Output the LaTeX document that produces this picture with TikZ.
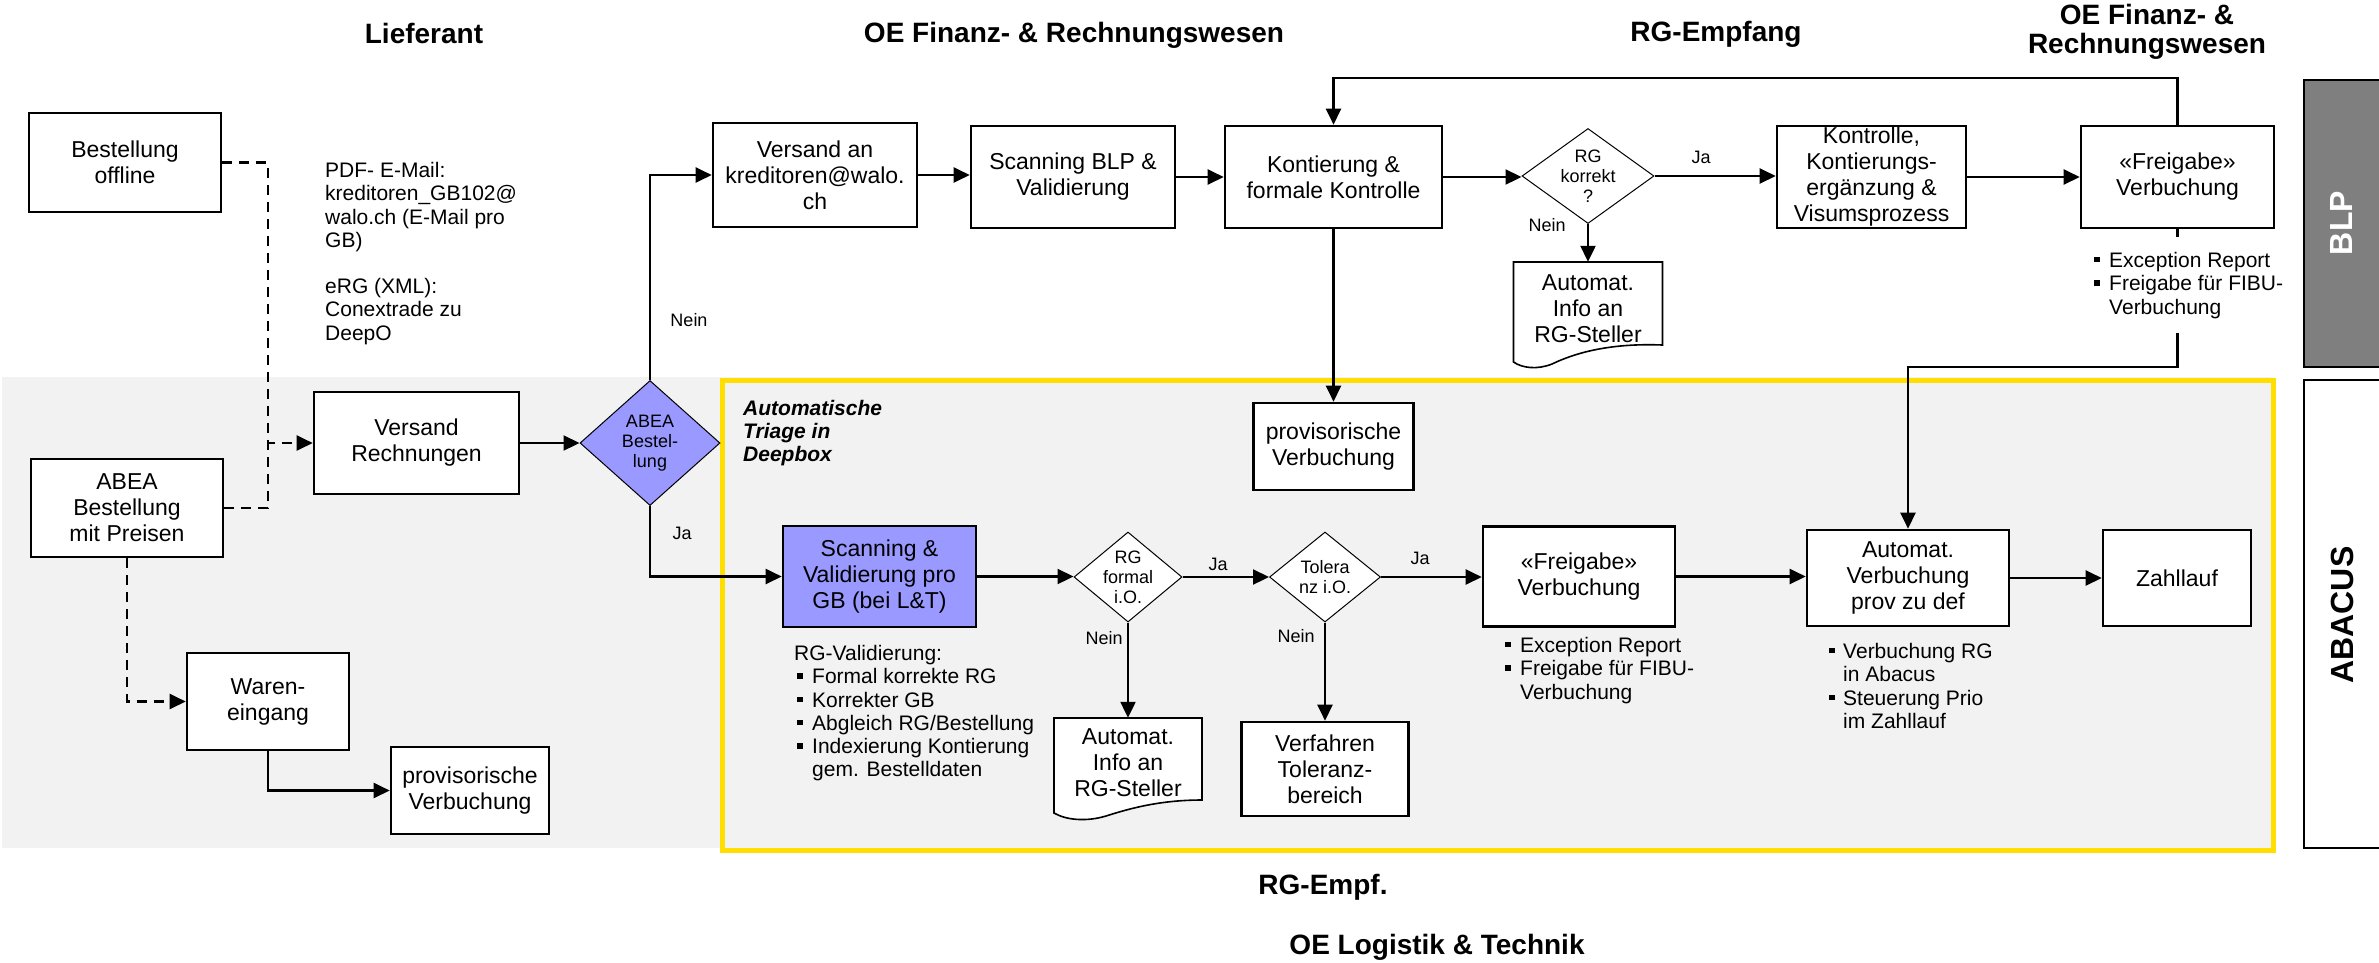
\documentclass[tikz,border=0pt]{standalone}
\usepackage{fontspec}
\setmainfont{Liberation Sans}
\usetikzlibrary{arrows.meta,shapes.geometric,calc}
\definecolor{bandgray}{HTML}{F2F2F2}
\definecolor{peri}{HTML}{9999FF}
\definecolor{ylw}{RGB}{255,222,0}
\definecolor{blpgray}{HTML}{7F7F7F}
\newcommand\sqb{\makebox[15pt][l]{\rule[5pt]{5.5pt}{5.5pt}}}
\newcommand\sqi{\hspace*{15pt}}
\begin{document}
\begin{tikzpicture}[x=1pt,y=-1pt,
  box/.style={draw, line width=2.6pt, fill=white, inner sep=0pt, align=center, font=\fontsize{23}{26}\selectfont},
  dia/.style={diamond, draw, line width=1pt, inner sep=0pt},
  dtext/.style={align=center, font=\fontsize{18}{20}\selectfont, inner sep=0pt},
  conn/.style={line width=2.2pt, -{Triangle[length=16pt,width=15pt]}},
  lnk/.style={line width=2.2pt},
  dashconn/.style={line width=2.2pt, dash pattern=on 10pt off 7pt, -{Triangle[length=16pt,width=15pt]}},
  dashlnk/.style={line width=2.2pt, dash pattern=on 10pt off 7pt},
  lbl/.style={font=\fontsize{18}{20}\selectfont, inner sep=0pt},
  hdr/.style={font=\bfseries\fontsize{28}{29}\selectfont, align=center, inner sep=0pt},
  note/.style={font=\fontsize{21}{23.3}\selectfont, align=left, inner sep=0pt, anchor=north west},
  docline/.style={line width=1.6pt, fill=white},
  bar/.style={line width=2.5pt}
]
\useasboundingbox (0,0) rectangle (2379,962);
% background band and triage frame
\fill[bandgray] (2,377) rectangle (2273,848);
\draw[ylw, line width=5pt] (722.5,380.5) rectangle (2273,850.5);
% lane bars
\draw[bar, fill=blpgray] (2304,80) rectangle (2390,367);
\draw[bar, fill=white] (2304,380) rectangle (2390,848);
\node[rotate=90, text=white, font=\bfseries\fontsize{32}{34}\selectfont, inner sep=0pt] (blpT) at (2341,223) {BLP};
\node[rotate=90, font=\bfseries\fontsize{32}{34}\selectfont, inner sep=0pt] (abaT) at (2342,615) {ABACUS};
% headers
\node[hdr] (hLief) at (424,33) {Lieferant};
\node[hdr] (hOE1) at (1074,35) {OE Finanz- \& Rechnungswesen};
\node[hdr] (hRG) at (1716,34) {RG-Empfang};
\node[hdr] (hOE2) at (2147,32) {OE Finanz- \&\\Rechnungswesen};
\node[hdr] (hRGE) at (1323,887) {RG-Empf.};
\node[hdr] (hOEL) at (1437,947) {OE Logistik \& Technik};
% boxes
\node[box, minimum width=192pt, minimum height=99pt] (boff) at (125,162.5) {Bestellung\\offline};
\node[box, minimum width=192pt, minimum height=98pt] (abea) at (127,508) {ABEA\\Bestellung\\mit Preisen};
\node[box, minimum width=205pt, minimum height=102pt] (vr) at (416.5,443) {Versand\\Rechnungen};
\node[box, minimum width=162pt, minimum height=97pt] (wein) at (268,701.5) {Waren-\\eingang};
\node[box, minimum width=158pt, minimum height=87pt] (provL) at (470,790.5) {provisorische\\Verbuchung};
\node[dia, fill=peri, minimum width=140pt, minimum height=125pt, label={[dtext]center:ABEA\\Bestel-\\lung}] (abeaD) at (650,443) {};
\node[box, minimum width=204pt, minimum height=104pt] (van) at (815,175) {Versand an\\kreditoren@walo.\\ch};
\node[box, minimum width=204pt, minimum height=102pt] (sblp) at (1073,177) {Scanning BLP \&\\Validierung};
\node[box, minimum width=217pt, minimum height=102pt] (kont) at (1333.5,177) {Kontierung \&\\formale Kontrolle};
\node[dia, fill=white, minimum width=132pt, minimum height=95pt, label={[dtext]center:RG\\korrekt\\?}] (rgk) at (1588,176) {};
\node[box, minimum width=189pt, minimum height=102pt] (kontr) at (1871.5,177) {Kontrolle,\\Kontierungs-\\ergänzung \&\\Visumsprozess};
\node[box, minimum width=193pt, minimum height=102pt] (frei1) at (2177.5,177) {«Freigabe»\\Verbuchung};
\node[box, minimum width=160pt, minimum height=87pt] (provM) at (1333.5,446.5) {provisorische\\Verbuchung};
\node[box, fill=peri, minimum width=193pt, minimum height=101pt] (scan) at (879.5,576.5) {Scanning \&\\Validierung pro\\GB (bei L\&T)};
\node[dia, fill=white, minimum width=108pt, minimum height=90pt, label={[dtext]center:RG\\formal\\i.O.}] (rgf) at (1128,577) {};
\node[dia, fill=white, minimum width=111pt, minimum height=90pt, label={[dtext]center:Tolera\\nz i.O.}] (tol) at (1325,577) {};
\node[box, minimum width=167pt, minimum height=94pt] (verf) at (1325,769) {Verfahren\\Toleranz-\\bereich};
\node[box, minimum width=192pt, minimum height=100pt] (frei2) at (1579,576.5) {«Freigabe»\\Verbuchung};
\node[box, minimum width=202pt, minimum height=96pt] (autv) at (1908,578) {Automat.\\Verbuchung\\prov zu def};
\node[box, minimum width=148pt, minimum height=96pt] (zahl) at (2177,578) {Zahllauf};
% document shapes
\draw[docline] (1513.5,262) -- (1662.5,262) -- (1662.5,345) .. controls (1612,343) and (1577,352) .. (1552,364) .. controls (1537,370) and (1522,368) .. (1513.5,362) -- cycle;
\node[align=center, font=\fontsize{23}{26}\selectfont, inner sep=0pt, minimum width=149pt, minimum height=94pt] (doc1) at (1588,309) {Automat.\\Info an\\RG-Steller};
\draw[docline] (1054,718) -- (1202,718) -- (1202,800) .. controls (1161,800) and (1131,808) .. (1106,816) .. controls (1086,822) and (1066,820) .. (1054,813) -- cycle;
\node[align=center, font=\fontsize{23}{26}\selectfont, inner sep=0pt, minimum width=148pt, minimum height=89pt] (doc2) at (1128,762.5) {Automat.\\Info an\\RG-Steller};
% connectors
\coordinate (dj) at (268,443);
\draw[dashconn] (boff.east) -| (dj) -- (vr.west);
\draw[dashlnk] (abea.east) -| (dj);
\draw[dashconn] (abea.south) |- (wein.west);
\draw[conn] (wein.south) |- (provL.west);
\draw[conn] (vr.east) -- (vr.east -| abeaD.west);
\draw[conn] (abeaD.north) |- (van.west);
\draw[conn] (abeaD.south) |- (scan.west);
\draw[conn] (van.east) -- (van.east -| sblp.west);
\draw[conn] (sblp.east) -- (sblp.east -| kont.west);
\draw[conn] (kont.east) -- (kont.east -| rgk.west);
\draw[conn] (rgk.east) -- (rgk.east -| kontr.west);
\draw[conn] (rgk.south) -- (rgk.south |- doc1.north);
\draw[conn] (kontr.east) -- (kontr.east -| frei1.west);
\coordinate (fbtop) at (2177.5,78);
\draw[conn] (frei1.north) -- (fbtop) -| (kont.north);
\draw[conn] (kont.south) -- (kont.south |- provM.north);
\coordinate (fbdown) at (2177.5,367);
\draw[conn] (frei1.south) -- (fbdown) -| (autv.north);
\draw[conn] (scan.east) -- (scan.east -| rgf.west);
\draw[conn] (rgf.east) -- (rgf.east -| tol.west);
\draw[conn] (tol.east) -- (tol.east -| frei2.west);
\draw[conn] (rgf.south) -- (rgf.south |- doc2.north);
\draw[conn] (tol.south) -- (tol.south |- verf.north);
\draw[conn] (frei2.east) -- (frei2.east -| autv.west);
\draw[conn] (autv.east) -- (autv.east -| zahl.west);
% labels
\node[lbl] (lNein1) at (689,320) {Nein};
\node[lbl] (lJa1) at (682,533) {Ja};
\node[lbl] (lJa2) at (1701,157) {Ja};
\node[lbl] (lNein2) at (1547,225) {Nein};
\node[lbl] (lJa3) at (1218,564) {Ja};
\node[lbl] (lJa4) at (1420,558) {Ja};
\node[lbl] (lNein3) at (1104,638) {Nein};
\node[lbl] (lNein4) at (1296,636) {Nein};
% notes
\node[note] (pdf) at (325,162) {PDF- E-Mail:\\kreditoren\_GB102@\\walo.ch (E-Mail pro\\GB)\\[23pt]eRG (XML):\\Conextrade zu\\DeepO};
\node[note, font=\bfseries\itshape\fontsize{21}{23}\selectfont] (triage) at (743,400) {Automatische\\Triage in\\Deepbox};
\node[note] (rgval) at (794,645) {RG-Validierung:\\\hspace*{3pt}\sqb Formal korrekte RG\\\hspace*{3pt}\sqb Korrekter GB\\\hspace*{3pt}\sqb Abgleich RG/Bestellung\\\hspace*{3pt}\sqb Indexierung Kontierung\\\hspace*{3pt}\sqi gem. Bestelldaten};
\node[note, fill=white, inner ysep=15pt] (n1) at (2094,237) {\sqb Exception Report\\\sqb Freigabe für FIBU-\\\sqi Verbuchung};
\node[note] (n2) at (1505,637) {\sqb Exception Report\\\sqb Freigabe für FIBU-\\\sqi Verbuchung};
\node[note] (n3) at (1829,643) {\makebox[14pt][l]{\rule[5pt]{5.5pt}{5.5pt}}Verbuchung RG\\\hspace*{14pt}in Abacus\\\makebox[14pt][l]{\rule[5pt]{5.5pt}{5.5pt}}Steuerung Prio\\\hspace*{14pt}im Zahllauf};
\end{tikzpicture}
\end{document}
